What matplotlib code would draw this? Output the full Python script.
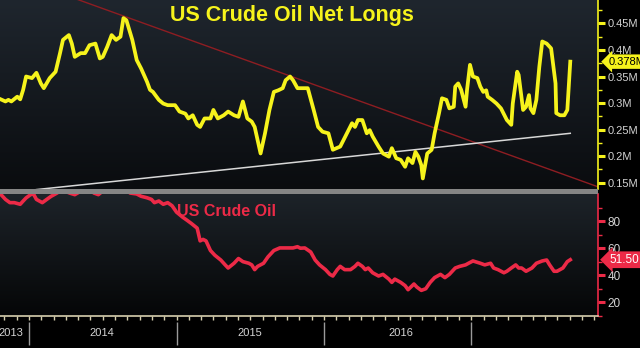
import numpy as np
import matplotlib
matplotlib.use('Agg')
import matplotlib.pyplot as plt
from matplotlib.colors import LinearSegmentedColormap
from matplotlib.patches import Rectangle

plt.rcParams['font.family'] = ['Liberation Sans', 'DejaVu Sans']

# ── Data (x in fractional years) ─────────────────────────────────────────────
longs_x = [2013.80, 2013.84, 2013.86, 2013.88, 2013.92, 2013.94, 2013.96, 2013.98,
           2014.02, 2014.05, 2014.08, 2014.10, 2014.14, 2014.18, 2014.21, 2014.23,
           2014.27, 2014.29, 2014.31, 2014.35, 2014.38, 2014.41, 2014.45, 2014.48,
           2014.50, 2014.53, 2014.56, 2014.59, 2014.62, 2014.64, 2014.66, 2014.70,
           2014.73, 2014.76, 2014.80, 2014.82, 2014.84, 2014.88, 2014.91, 2014.94,
           2014.99, 2015.02, 2015.06, 2015.08, 2015.11, 2015.14, 2015.16, 2015.19,
           2015.23, 2015.25, 2015.28, 2015.32, 2015.35, 2015.39, 2015.42, 2015.45,
           2015.48, 2015.51, 2015.53, 2015.57, 2015.60, 2015.63, 2015.66, 2015.69,
           2015.72, 2015.74, 2015.77, 2015.79, 2015.82, 2015.86, 2015.89, 2015.93,
           2015.96, 2015.99, 2016.03, 2016.06, 2016.11, 2016.15, 2016.19, 2016.21,
           2016.23, 2016.26, 2016.29, 2016.31, 2016.33, 2016.37, 2016.40, 2016.44,
           2016.46, 2016.49, 2016.52, 2016.55, 2016.57, 2016.60, 2016.62, 2016.64,
           2016.66, 2016.67, 2016.70, 2016.73, 2016.75, 2016.78, 2016.80, 2016.83,
           2016.85, 2016.88, 2016.89, 2016.91, 2016.93, 2016.96, 2016.97, 2016.99,
           2017.01, 2017.04, 2017.06, 2017.08, 2017.10, 2017.11, 2017.14, 2017.17,
           2017.20, 2017.24, 2017.27, 2017.28, 2017.31, 2017.32, 2017.35, 2017.37,
           2017.39, 2017.40, 2017.42, 2017.44, 2017.46, 2017.48, 2017.51, 2017.54,
           2017.57, 2017.575, 2017.60, 2017.63, 2017.65, 2017.67]
longs_m = [0.308, 0.303, 0.306, 0.303, 0.312, 0.307, 0.325, 0.350,
           0.347, 0.357, 0.337, 0.328, 0.347, 0.359, 0.394, 0.419,
           0.428, 0.412, 0.387, 0.394, 0.394, 0.409, 0.412, 0.384,
           0.387, 0.406, 0.428, 0.419, 0.425, 0.460, 0.456, 0.419,
           0.381, 0.365, 0.340, 0.325, 0.321, 0.306, 0.299, 0.296,
           0.296, 0.284, 0.280, 0.271, 0.277, 0.259, 0.255, 0.271,
           0.271, 0.287, 0.271, 0.277, 0.284, 0.277, 0.274, 0.303,
           0.271, 0.265, 0.255, 0.205, 0.243, 0.287, 0.321, 0.324,
           0.328, 0.343, 0.350, 0.343, 0.328, 0.328, 0.328, 0.287,
           0.255, 0.246, 0.243, 0.212, 0.218, 0.240, 0.262, 0.255,
           0.268, 0.268, 0.243, 0.249, 0.237, 0.218, 0.205, 0.199,
           0.215, 0.196, 0.193, 0.180, 0.196, 0.187, 0.208, 0.199,
           0.183, 0.158, 0.205, 0.212, 0.243, 0.281, 0.309, 0.306,
           0.290, 0.293, 0.331, 0.337, 0.325, 0.293, 0.325, 0.372,
           0.350, 0.347, 0.331, 0.321, 0.324, 0.312, 0.306, 0.299,
           0.290, 0.268, 0.259, 0.299, 0.359, 0.353, 0.287, 0.293,
           0.315, 0.290, 0.281, 0.306, 0.368, 0.416, 0.412, 0.403,
           0.337, 0.281, 0.277, 0.277, 0.287, 0.378]

oil_x = [2013.80, 2013.84, 2013.87, 2013.90, 2013.94, 2013.96, 2013.98, 2014.01,
         2014.03, 2014.05, 2014.09, 2014.12, 2014.15, 2014.19, 2014.22, 2014.28,
         2014.31, 2014.35, 2014.40, 2014.44, 2014.47, 2014.52, 2014.58, 2014.65,
         2014.685, 2014.73, 2014.76, 2014.80, 2014.83, 2014.85, 2014.88, 2014.91,
         2014.94, 2014.97, 2015.00, 2015.04, 2015.07, 2015.10, 2015.14, 2015.16,
         2015.18, 2015.20, 2015.23, 2015.26, 2015.30, 2015.33, 2015.35, 2015.39,
         2015.42, 2015.45, 2015.49, 2015.51, 2015.53, 2015.55, 2015.59, 2015.62,
         2015.66, 2015.70, 2015.75, 2015.79, 2015.82, 2015.84, 2015.87, 2015.91,
         2015.94, 2015.97, 2016.01, 2016.04, 2016.06, 2016.09, 2016.11, 2016.14,
         2016.18, 2016.21, 2016.23, 2016.26, 2016.28, 2016.30, 2016.33, 2016.37,
         2016.40, 2016.44, 2016.46, 2016.48, 2016.52, 2016.55, 2016.57, 2016.61,
         2016.63, 2016.66, 2016.69, 2016.72, 2016.75, 2016.79, 2016.82, 2016.85,
         2016.89, 2016.92, 2016.96, 2016.98, 2017.01, 2017.06, 2017.09, 2017.13,
         2017.15, 2017.18, 2017.22, 2017.24, 2017.27, 2017.30, 2017.32, 2017.34,
         2017.37, 2017.41, 2017.44, 2017.48, 2017.51, 2017.53, 2017.56, 2017.58,
         2017.60, 2017.62, 2017.65, 2017.67]
oil_px = [100.7, 96.0, 93.6, 93.6, 92.4, 94.8, 97.1, 99.5,
          100.0, 96.0, 93.6, 96.0, 98.3, 100.7, 103.0, 100.5,
          99.5, 102.0, 104.0, 100.7, 99.5, 104.0, 106.0, 104.0,
          100.7, 100.0, 98.3, 97.2, 96.0, 93.6, 94.8, 92.4,
          93.6, 91.3, 86.6, 83.0, 80.7, 78.3, 74.8, 65.4,
          66.5, 65.4, 58.3, 54.8, 51.3, 47.7, 45.4, 48.9,
          52.4, 50.1, 48.9, 47.7, 44.2, 46.6, 48.9, 53.6,
          58.3, 60.2, 60.2, 60.2, 61.1, 60.0, 60.2, 57.2,
          51.3, 47.7, 44.2, 40.7, 39.5, 44.2, 46.6, 44.2,
          44.2, 46.6, 48.9, 46.6, 44.2, 45.4, 41.9, 39.5,
          40.7, 37.2, 34.8, 37.2, 34.8, 32.4, 29.4, 33.6,
          31.3, 28.9, 30.1, 34.8, 38.3, 40.7, 38.3, 40.7,
          45.4, 46.6, 47.7, 48.9, 50.6, 48.9, 47.7, 48.9,
          45.4, 44.2, 41.9, 43.0, 45.4, 47.7, 45.4, 45.4,
          43.0, 45.4, 48.9, 50.6, 51.3, 47.7, 43.0, 43.0,
          44.2, 45.4, 50.1, 51.5]

# trend lines drawn on the net-longs panel
red_trend_x = [2014.20, 2017.86]
red_trend_y = [0.508, 0.142]
white_trend_x = [2014.05, 2017.67]
white_trend_y = [0.137, 0.243]

longs_ticks = [0.15, 0.20, 0.25, 0.30, 0.35, 0.40, 0.45]
longs_tick_labels = ['0.15M', '0.2M', '0.25M', '0.3M', '0.35M', '0.4M', '0.45M']
oil_ticks = [20, 40, 60, 80]
year_bounds = [2014, 2015, 2016, 2017]
year_label_x = [2013.88, 2014.49, 2015.50, 2016.52]
year_labels = ['2013', '2014', '2015', '2016']

XMIN, XMAX = 2013.803, 2017.858
YELLOW = '#f6f31c'
RED = '#ec2a47'
CREAM = '#d6cfae'
LABEL = '#d4d4d4'

W, H = 640, 348
fig = plt.figure(figsize=(W / 100, H / 100), dpi=100, facecolor='black')


def gradient(ax, top, bottom):
    cmap = LinearSegmentedColormap.from_list('bg', [bottom, top])
    g = np.linspace(0, 1, 256).reshape(-1, 1)
    ax.imshow(g, extent=[0, 1, 0, 1], transform=ax.transAxes, aspect='auto',
              cmap=cmap, origin='lower', zorder=0)


# ── Top: net longs ────────────────────────────────────────────────────────────
ax = fig.add_axes([0, (H - 189) / H, 598 / W, 189 / H])
gradient(ax, '#1f262e', '#0a0c0f')
ax.plot(red_trend_x, red_trend_y, color='#8e1d22', lw=1.0, zorder=2)
ax.plot(white_trend_x, white_trend_y, color='#d8d8d8', lw=1.1, zorder=2)
ax.plot(longs_x, longs_m, color=YELLOW, lw=2.7, zorder=3, solid_joinstyle='round')
ax.set_xlim(XMIN, XMAX)
ax.set_ylim(0.1381, 0.4941)
for s in ['top', 'left', 'bottom']:
    ax.spines[s].set_visible(False)
ax.spines['right'].set_color(YELLOW)
ax.spines['right'].set_linewidth(1.2)
ax.set_xticks([])
ax.yaxis.tick_right()
ax.set_yticks(longs_ticks)
ax.set_yticklabels(longs_tick_labels)
ax.set_yticks(np.arange(0.15, 0.49, 0.025), minor=True)
ax.tick_params(axis='y', which='major', colors=LABEL, color=YELLOW, length=5,
               width=2.2, pad=2, labelsize=8)
ax.tick_params(axis='y', which='minor', color=YELLOW, length=3, width=1)
ax.annotate('0.378M', xy=(1, 0.378), xycoords=('axes fraction', 'data'),
            xytext=(8, 0), textcoords='offset points', ha='left', va='center',
            fontsize=8, color='black', annotation_clip=False,
            bbox=dict(boxstyle='larrow,pad=0.2', fc=YELLOW, ec='none'))

# ── Bottom: crude oil price ───────────────────────────────────────────────────
ax2 = fig.add_axes([0, (H - 316) / H, 598 / W, 122 / H])
gradient(ax2, '#1d2329', '#050607')
ax2.plot(oil_x, oil_px, color=RED, lw=2.6, zorder=3, solid_joinstyle='round')
ax2.set_xlim(XMIN, XMAX)
ax2.set_ylim(13.86, 99.98)
for s in ['top', 'left']:
    ax2.spines[s].set_visible(False)
ax2.spines['right'].set_color(RED)
ax2.spines['right'].set_linewidth(1.2)
ax2.spines['bottom'].set_color(CREAM)
ax2.spines['bottom'].set_linewidth(1.2)
ax2.yaxis.tick_right()
ax2.set_yticks(oil_ticks)
ax2.set_yticks(np.arange(10, 100, 10), minor=True)
ax2.tick_params(axis='y', which='major', colors=LABEL, color=RED, length=5,
                width=2.2, pad=2, labelsize=8.5)
ax2.tick_params(axis='y', which='minor', color=RED, length=3, width=1)
months = [y + m / 12 for y in range(2013, 2018) for m in range(12)]
months = [m for m in months if XMIN <= m <= XMAX]
ax2.set_xticks(months)
ax2.tick_params(axis='x', direction='out', color=CREAM, length=3, width=1,
                labelbottom=False)
ax2.annotate('51.50', xy=(1, 51.5), xycoords=('axes fraction', 'data'),
             xytext=(8, 0), textcoords='offset points', ha='left', va='center',
             fontsize=8.5, color='white', annotation_clip=False,
             bbox=dict(boxstyle='larrow,pad=0.2', fc=RED, ec='none'))

# gray divider between the panels
fig.patches.append(Rectangle((0, (H - 194) / H), 598 / W, 5 / H,
                             transform=fig.transFigure, fc='#858585', ec='none',
                             zorder=5))

# ── Year strip ────────────────────────────────────────────────────────────────
ax3 = fig.add_axes([0, 0, 598 / W, 32 / H])
ax3.set_facecolor('black')
ax3.set_xlim(XMIN, XMAX)
ax3.set_ylim(0, 32)
ax3.axis('off')
ax3.vlines(year_bounds, 3, 26, color='#9a9a9a', lw=1)
for xx, lab in zip(year_label_x, year_labels):
    ax3.text(xx, 15, lab, ha='center', va='center', color=LABEL, fontsize=8)

# ── Titles ────────────────────────────────────────────────────────────────────
fig.text(292 / W, 1 - 15 / H, 'US Crude Oil Net Longs', ha='center', va='center',
         color=YELLOW, fontsize=15.5, fontweight='bold')
fig.text(177 / W, 1 - 211 / H, 'US Crude Oil', ha='left', va='center',
         color=RED, fontsize=11.5, fontweight='bold')

fig.savefig('out.png', dpi=100, facecolor='black')
